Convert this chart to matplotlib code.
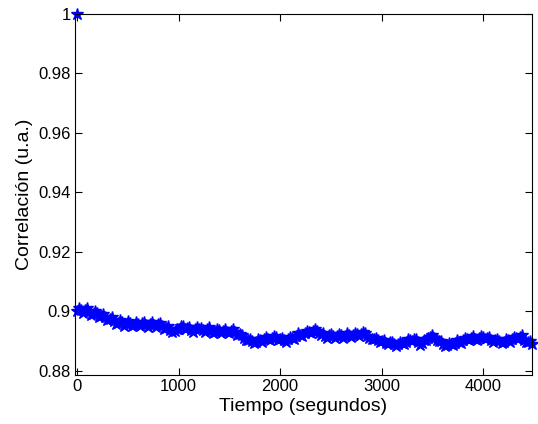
import numpy as np
import matplotlib
matplotlib.use('Agg')
import matplotlib.pyplot as plt
from matplotlib.ticker import FuncFormatter

plt.rcParams['font.family'] = ['Liberation Sans', 'DejaVu Sans']

# correlation, one point every 40 s
t_even = np.arange(0, 4481, 40)
corr_even = [
    0.9001, 0.9003, 0.9006, 0.8998, 0.8992, 0.8995, 0.8985, 0.8982, 0.8975, 0.8968,
    0.8960, 0.8963, 0.8958, 0.8962, 0.8955, 0.8957, 0.8960, 0.8953, 0.8958, 0.8955,
    0.8957, 0.8952, 0.8945, 0.8938, 0.8933, 0.8940, 0.8950, 0.8945, 0.8938, 0.8942,
    0.8940, 0.8936, 0.8942, 0.8935, 0.8932, 0.8936, 0.8933, 0.8930, 0.8935, 0.8932,
    0.8925, 0.8912, 0.8905, 0.8900, 0.8898, 0.8902, 0.8906, 0.8908, 0.8912, 0.8914,
    0.8908, 0.8905, 0.8907, 0.8910, 0.8918, 0.8922, 0.8926, 0.8930, 0.8933, 0.8935,
    0.8922, 0.8918, 0.8920, 0.8917, 0.8916, 0.8919, 0.8918, 0.8921, 0.8920, 0.8923,
    0.8925, 0.8928, 0.8912, 0.8908, 0.8904, 0.8900, 0.8895, 0.8896, 0.8891, 0.8890,
    0.8893, 0.8898, 0.8903, 0.8908, 0.8896, 0.8892, 0.8905, 0.8915, 0.8912, 0.8900,
    0.8890, 0.8888, 0.8890, 0.8895, 0.8898, 0.8903, 0.8907, 0.8912, 0.8906, 0.8910,
    0.8914, 0.8910, 0.8905, 0.8902, 0.8900, 0.8898, 0.8902, 0.8906, 0.8910, 0.8915,
    0.8905, 0.8898, 0.8890,
]
# the in-between samples (20 s, 60 s, ...), noisier
t_odd = np.arange(20, 4461, 40)
corr_odd = [
    0.9010, 0.8996, 0.9010, 0.8988, 0.9002, 0.8982, 0.8992, 0.8970, 0.8980, 0.8958,
    0.8970, 0.8952, 0.8968, 0.8950, 0.8964, 0.8950, 0.8965, 0.8948, 0.8964, 0.8948,
    0.8962, 0.8942, 0.8950, 0.8930, 0.8942, 0.8952, 0.8940, 0.8948, 0.8932, 0.8947,
    0.8945, 0.8930, 0.8946, 0.8928, 0.8942, 0.8928, 0.8939, 0.8926, 0.8940, 0.8922,
    0.8920, 0.8902, 0.8908, 0.8893, 0.8906, 0.8896, 0.8913, 0.8903, 0.8918, 0.8905,
    0.8912, 0.8898, 0.8914, 0.8906, 0.8926, 0.8918, 0.8934, 0.8926, 0.8940, 0.8926,
    0.8927, 0.8912, 0.8925, 0.8910, 0.8924, 0.8912, 0.8926, 0.8914, 0.8928, 0.8918,
    0.8932, 0.8918, 0.8906, 0.8912, 0.8896, 0.8903, 0.8889, 0.8898, 0.8885, 0.8897,
    0.8890, 0.8906, 0.8900, 0.8908, 0.8888, 0.8902, 0.8912, 0.8920, 0.8902, 0.8899,
    0.8884, 0.8895, 0.8886, 0.8903, 0.8894, 0.8910, 0.8902, 0.8916, 0.8902, 0.8918,
    0.8906, 0.8913, 0.8898, 0.8907, 0.8893, 0.8906, 0.8898, 0.8914, 0.8908, 0.8922,
    0.8896, 0.8900,
]
t_first = [0]
corr_first = [1.0]

x_ticks = [0, 1000, 2000, 3000, 4000]
y_ticks = [0.88, 0.90, 0.92, 0.94, 0.96, 0.98, 1.00]

t = np.concatenate([t_first, t_even, t_odd])
corr = np.concatenate([corr_first, corr_even, corr_odd])
order = np.argsort(t, kind='stable')

fig = plt.figure(figsize=(5.38, 4.24), dpi=100)
ax = fig.add_axes([0.1394, 0.1156, 0.8494, 0.8514])

ax.plot(t[order], corr[order], linestyle='none', marker='*', markersize=9,
        color='#0000ff', clip_on=False)

ax.set_xlim(-20, 4480)
ax.set_ylim(0.8786, 1.0)
ax.set_xticks(x_ticks)
ax.set_yticks(y_ticks)
ax.yaxis.set_major_formatter(FuncFormatter(lambda v, p: '%g' % round(v, 2)))

ax.tick_params(direction='in', top=True, right=True, length=5, labelsize=12, pad=3)
for s in ax.spines.values():
    s.set_linewidth(0.8)

ax.set_xlabel('Tiempo (segundos)', fontsize=14, labelpad=3)
ax.set_ylabel('Correlación (u.a.)', fontsize=14, labelpad=4)

plt.savefig('out.png', dpi=100)
